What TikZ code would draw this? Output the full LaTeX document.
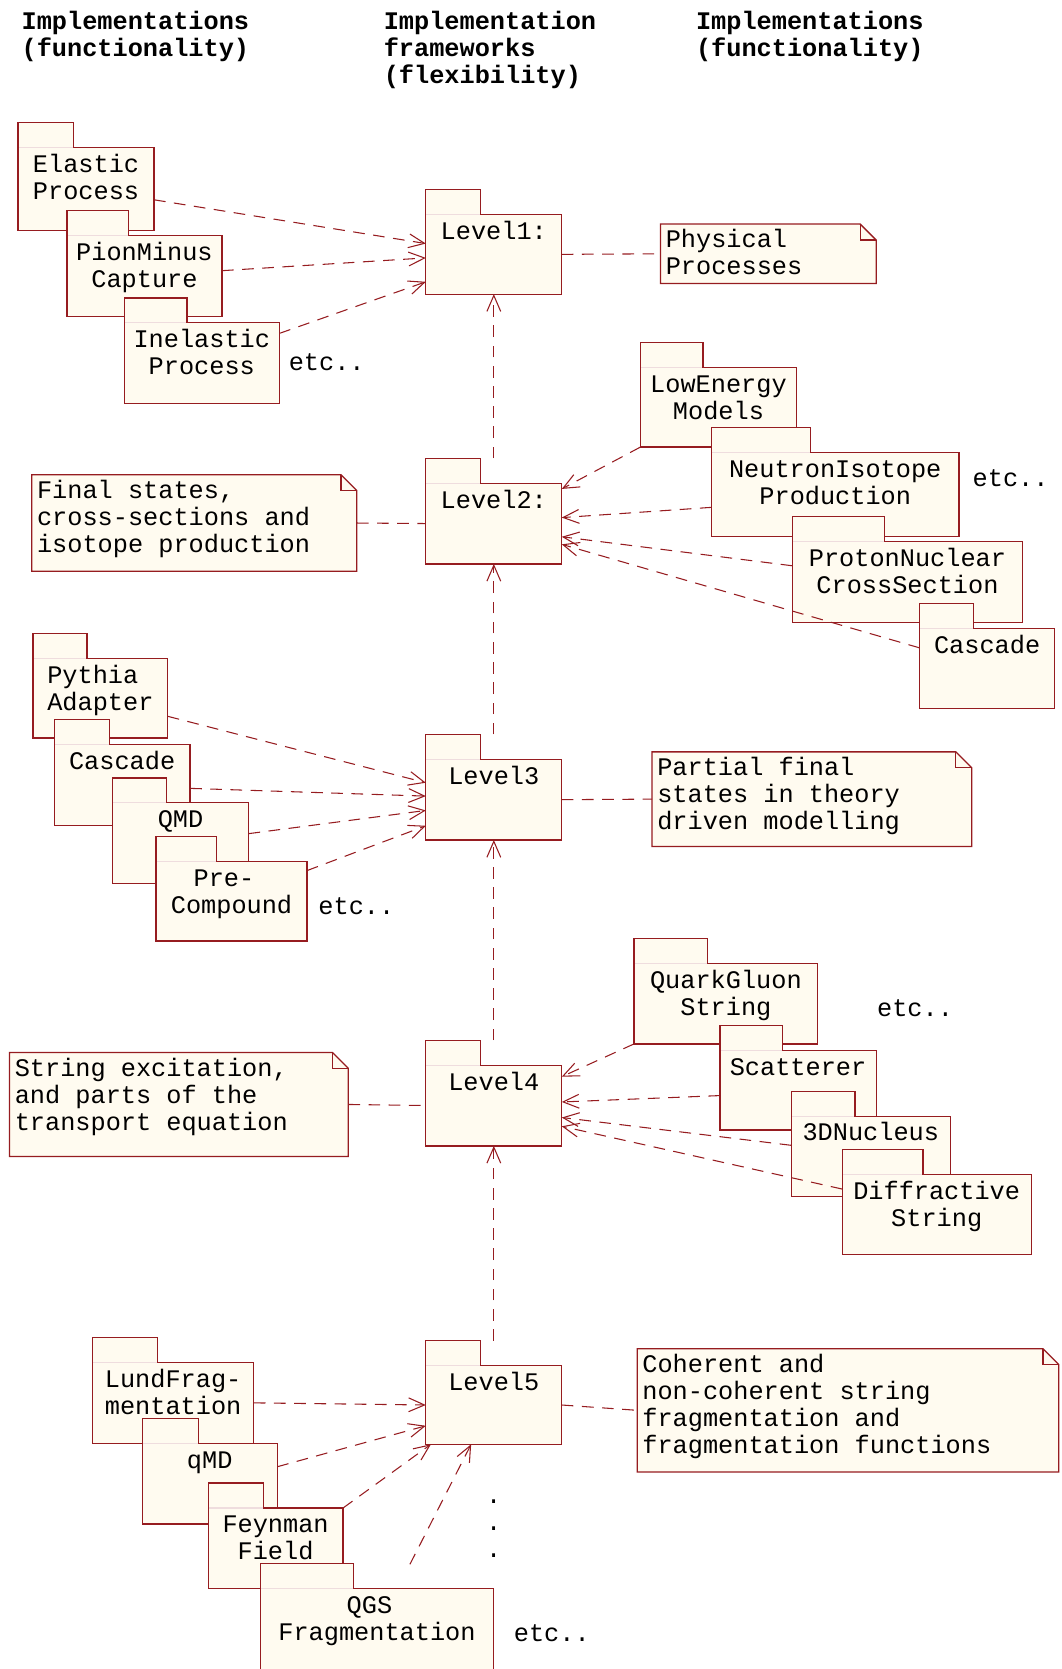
\documentclass[tikz,border=0pt]{standalone}
\usepackage{fontspec}
\setmainfont{Liberation Mono}
\usetikzlibrary{arrows.meta,calc,fit}

\definecolor{umlred}{RGB}{150,28,32}
\definecolor{umlfill}{RGB}{255,251,240}

\newcommand{\txtfont}{\fontsize{11.9}{12.75}\selectfont}
\newcommand{\firststrut}{\rule{0pt}{9pt}}

% folder: name, x1, y1 (body top), x2, y2, tab right, text
\newcommand{\umlpkg}[7]{%
  \fill[umlfill] (#2,#3-23.5) rectangle (#6,#3);
  \node[pkgbody, fit={(#2,#3) (#4,#5)}] (#1) {};
  \draw[pkgtab] (#2,#3) -- (#6,#3);
  \draw[pkgline] (#2,#3) -- (#2,#3-23.5) -- (#6,#3-23.5) -- (#6,#3) -- (#4,#3) -- (#4,#5) -- (#2,#5) -- cycle;
  \node[pkgtext] at ({(#2+#4)/2},#3+5) {\firststrut#7};
  \coordinate (#1-top) at ({(#2+#4)/2},#3-23.5);
}

% note: name, x1, y1, x2, y2, text
\newcommand{\umlnote}[6]{%
  \node[notebody, fit={(#2,#3) (#4,#5)}] (#1) {};
  \filldraw[noteline, fill=umlfill] (#2,#3) -- (#4-15,#3) -- (#4,#3+15) -- (#4,#5) -- (#2,#5) -- cycle;
  \draw[noteline] (#4-15,#3) -- (#4-15,#3+15) -- (#4,#3+15);
  \node[notetext] at (#2+4.5,#3+4) {\firststrut#6};
}

\begin{document}
\begin{tikzpicture}[
  x=0.5pt, y=-0.5pt,
  pkgbody/.style={rectangle, inner sep=0pt, outer sep=0pt, fill=umlfill},
  pkgline/.style={draw=umlred, line width=0.6pt},
  pkgtab/.style={draw=umlred!15, line width=0.6pt},
  pkgtext/.style={font=\txtfont, align=center, anchor=north, inner sep=0pt},
  notebody/.style={rectangle, inner sep=0pt, outer sep=0pt},
  noteline/.style={draw=umlred, line width=0.6pt},
  notetext/.style={font=\txtfont, align=left, anchor=north west, inner sep=0pt},
  plain/.style={font=\txtfont, anchor=base west, inner sep=0pt},
  heading/.style={font=\txtfont\bfseries, align=left, anchor=north west, inner sep=0pt},
  link/.style={umlred, line width=0.5pt, dash pattern=on 5.5pt off 4pt},
  dep/.style={link, -{Straight Barb[length=7.5pt,width=6.5pt]}}
]
\useasboundingbox (0,0) rectangle (1000,1571.6);

\node[heading] (headleft) at (20,9) {\firststrut Implementations\\(functionality)};
\node[heading] (headmid) at (361,9) {\firststrut Implementation\\frameworks\\(flexibility)};
\node[heading] (headright) at (655,9) {\firststrut Implementations\\(functionality)};

% level 1
\umlpkg{elastic}{17}{139}{145}{217}{69}{Elastic\\Process}
\umlpkg{pion}{63}{222}{209}{298}{121}{PionMinus\\Capture}
\umlpkg{inelastic}{117}{304}{263}{380}{176}{Inelastic\\Process}
\umlpkg{level1}{401}{202}{529}{277}{452.6}{Level1:}
\umlnote{physical}{622}{211}{825}{267}{Physical\\Processes}
\node[plain] (etcA) at (271.5,349) {etc..};

% level 2
\umlpkg{lowenergy}{603}{346}{750}{421}{662}{LowEnergy\\Models}
\umlpkg{neutron}{670}{426}{903}{505}{763}{NeutronIsotope\\Production}
\umlpkg{proton}{746}{510}{963}{586}{833}{ProtonNuclear\\CrossSection}
\umlpkg{cascadeB}{866}{592}{993}{667}{917}{Cascade}
\umlpkg{level2}{401}{455}{529}{531}{452.6}{Level2:}
\umlnote{finalstates}{30}{447}{336}{538}{Final states,\\cross-sections and\\isotope production}
\node[plain] (etcB) at (915.5,458) {etc..};

% level 3
\umlpkg{pythia}{31}{620}{158}{695}{82}{Pythia\phantom{x}\\Adapter}
\umlpkg{cascadeC}{51}{701}{179}{777}{103}{Cascade}
\umlpkg{qmd}{106}{756}{234}{832}{157}{QMD}
\umlpkg{precompound}{147}{811}{289}{886}{204}{Pre-\phantom{x}\\Compound}
\umlpkg{level3}{401}{715}{529}{791}{452.6}{Level3}
\umlnote{partial}{614}{708}{915}{797}{Partial final\\states in theory\\driven modelling}
\node[plain] (etcC) at (299.5,861) {etc..};

% level 4
\umlpkg{quark}{597}{907}{770}{983}{666}{QuarkGluon\\String}
\umlpkg{scatterer}{678}{989}{825}{1064}{737}{Scatterer}
\umlpkg{nucleus}{745}{1051}{895}{1127}{805}{3DNucleus}
\umlpkg{diffractive}{793}{1106}{971}{1181}{869}{Diffractive\\String}
\umlpkg{level4}{401}{1003}{529}{1079}{452.6}{Level4}
\umlnote{excitation}{9}{991}{328}{1089}{String excitation,\\and parts of the\\transport equation}
\node[plain] (etcD) at (825.5,957) {etc..};

% level 5
\umlpkg{lund}{87}{1283}{239}{1359}{148}{LundFrag-\\mentation}
\umlpkg{qmdB}{134}{1359}{261}{1435}{187}{qMD}
\umlpkg{feynman}{196}{1420}{323}{1496}{248}{Feynman\\Field}
\umlpkg{qgs}{245}{1496}{465}{1580}{333}{QGS\phantom{x}\\Fragmentation}
\umlpkg{level5}{401}{1286}{529}{1360}{452.6}{Level5}
\umlnote{coherent}{600}{1270}{997}{1386}{Coherent and\\non-coherent string\\fragmentation and\\fragmentation functions}
\node[pkgtext] (dots) at (465,1397) {\firststrut.\\.\\.};
\node[plain] (etcE) at (483.5,1546) {etc..};

% dependencies
\draw[dep] (elastic.-9) -- (level1.171);
\draw[dep] (pion.4) -- (level1.183);
\draw[dep] (inelastic.21) -- (level1.202);
\draw[link] (level1.east) -- (physical.west);
\draw[dep] (level2-top) -- (level1.south);

\draw[dep] (lowenergy.south west) -- (level2.27);
\draw[dep] (neutron.186) -- (level2.5);
\draw[dep] (proton.172) -- (level2.-11);
\draw[dep] (cascadeB.163) -- (level2.-17);
\draw[link] (finalstates.east) -- (level2.west);
\draw[dep] (level3-top) -- (level2.south);

\draw[dep] (pythia.-15) -- (level3.166);
\draw[dep] (cascadeC.-3) -- (level3.177);
\draw[dep] (qmd.8) -- (level3.189);
\draw[dep] (precompound.22) -- (level3.201);
\draw[link] (level3.east) -- (partial.west);
\draw[dep] (level4-top) -- (level3.south);

\draw[dep] (quark.south west) -- (level4.23);
\draw[dep] (scatterer.184) -- (level4.3);
\draw[dep] (nucleus.172) -- (level4.-10);
\draw[dep] (diffractive.165) -- (level4.-17);
\draw[link] (excitation.east) -- (level4.west);
\draw[dep] (level5-top) -- (level4.south);

\draw[dep] (lund.east) -- (level5.west);
\draw[dep] (qmdB.14) -- (level5.197);
\draw[dep] (feynman.north east) -- (level5.212);
\coordinate (qgsfrom) at (386,1473);
\draw[dep] (qgsfrom) -- (level5.240);
\draw[link] (level5.east) -- (coherent.west);
\end{tikzpicture}
\end{document}
